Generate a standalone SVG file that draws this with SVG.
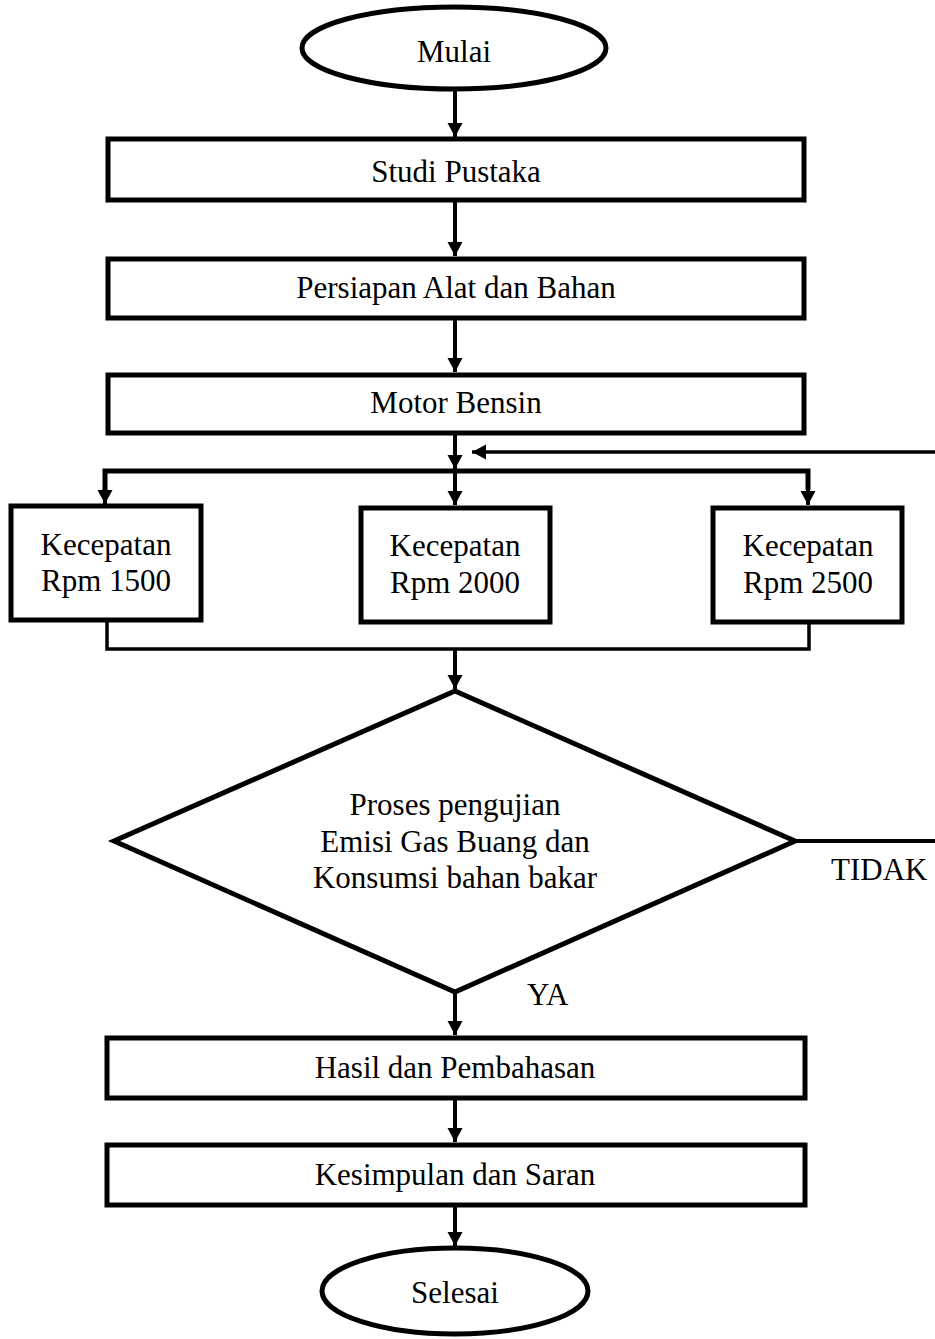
<svg xmlns="http://www.w3.org/2000/svg" width="935" height="1339" viewBox="0 0 935 1339">
<style>
.n{fill:#fff;stroke:#000;stroke-width:5}
.t{font-family:"Liberation Serif","Times New Roman",serif;font-size:31px;fill:#000;text-anchor:middle}
.l{font-family:"Liberation Serif","Times New Roman",serif;font-size:31px;fill:#000}
.c{fill:none;stroke:#000;stroke-width:4}
.s{fill:none;stroke:#000;stroke-width:3.5}
.th{fill:none;stroke:#000;stroke-width:5}
</style>
<defs>
<marker id="ah" markerUnits="userSpaceOnUse" markerWidth="16" markerHeight="16" refX="14" refY="7.5" orient="auto">
<path d="M0,0 L14,7.5 L0,15 z" fill="#000"/>
</marker>
</defs>
<rect width="935" height="1339" fill="#fff"/>
<g id="connectors">
<line class="c" x1="455" y1="90" x2="455" y2="137" marker-end="url(#ah)"/>
<line class="c" x1="455" y1="202" x2="455" y2="256" marker-end="url(#ah)"/>
<line class="c" x1="455" y1="320" x2="455" y2="372" marker-end="url(#ah)"/>
<line class="c" x1="455" y1="435" x2="455" y2="469" marker-end="url(#ah)"/>
<polyline class="th" points="105,490 105,471 808,471 808,490"/>
<line class="c" x1="105" y1="480" x2="105" y2="504" marker-end="url(#ah)"/>
<line class="c" x1="455" y1="471" x2="455" y2="505" marker-end="url(#ah)"/>
<line class="c" x1="808" y1="480" x2="808" y2="505" marker-end="url(#ah)"/>
<line class="s" x1="935" y1="452" x2="472" y2="452" marker-end="url(#ah)"/>
<polyline class="s" points="107,622 107,649 809,649 809,624"/>
<line class="c" x1="455" y1="649" x2="455" y2="689" marker-end="url(#ah)"/>
<line class="c" x1="795" y1="841" x2="935" y2="841"/>
<line class="c" x1="455" y1="994" x2="455" y2="1035" marker-end="url(#ah)"/>
<line class="c" x1="455" y1="1100" x2="455" y2="1142" marker-end="url(#ah)"/>
<line class="c" x1="455" y1="1207" x2="455" y2="1246" marker-end="url(#ah)"/>
<text class="l" x="831" y="880">TIDAK</text>
<text class="l" x="527" y="1005">YA</text>
</g>
<g id="mulai">
<ellipse class="n" cx="454" cy="48" rx="152" ry="41"/>
<text class="t" x="454" y="62">Mulai</text>
</g>
<g id="studi">
<rect class="n" x="108" y="139" width="696" height="61"/>
<text class="t" x="456" y="182">Studi Pustaka</text>
</g>
<g id="persiapan">
<rect class="n" x="108" y="259" width="696" height="59"/>
<text class="t" x="456" y="298">Persiapan Alat dan Bahan</text>
</g>
<g id="motor">
<rect class="n" x="108" y="375" width="696" height="58"/>
<text class="t" x="456" y="413">Motor Bensin</text>
</g>
<g id="rpm1500">
<rect class="n" x="11" y="506" width="190" height="114"/>
<text class="t" x="106" y="555">Kecepatan</text>
<text class="t" x="106" y="591">Rpm 1500</text>
</g>
<g id="rpm2000">
<rect class="n" x="361" y="508" width="189" height="114"/>
<text class="t" x="455" y="556">Kecepatan</text>
<text class="t" x="455" y="593">Rpm 2000</text>
</g>
<g id="rpm2500">
<rect class="n" x="713" y="508" width="189" height="114"/>
<text class="t" x="808" y="556">Kecepatan</text>
<text class="t" x="808" y="593">Rpm 2500</text>
</g>
<g id="proses">
<polygon class="n" points="455,691 795,841 455,992 114,841"/>
<text class="t" x="455" y="815">Proses pengujian</text>
<text class="t" x="455" y="852">Emisi Gas Buang dan</text>
<text class="t" x="455" y="888">Konsumsi bahan bakar</text>
</g>
<g id="hasil">
<rect class="n" x="107" y="1038" width="698" height="60"/>
<text class="t" x="455" y="1078">Hasil dan Pembahasan</text>
</g>
<g id="kesimpulan">
<rect class="n" x="107" y="1145" width="698" height="60"/>
<text class="t" x="455" y="1185">Kesimpulan dan Saran</text>
</g>
<g id="selesai">
<ellipse class="n" cx="455" cy="1291" rx="133" ry="43"/>
<text class="t" x="455" y="1303">Selesai</text>
</g>
</svg>
